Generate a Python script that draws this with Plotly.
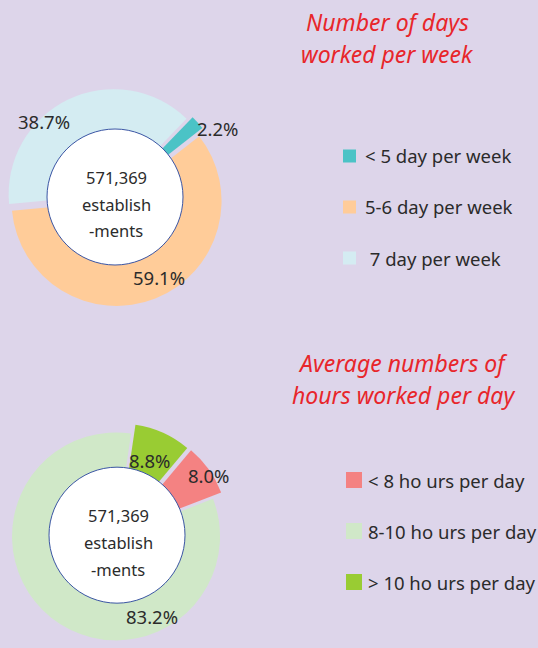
import plotly.graph_objects as go

# ---- data ---------------------------------------------------------------
total_lines = ["571,369", "establish", "-ments"]

days_labels = ["< 5 day per week", "5-6 day per week", " 7 day per week"]
days_values = [2.2, 59.1, 38.7]
days_colors = ["#4BC3C6", "#FFCC99", "#D4ECF2"]

hours_labels = ["< 8 ho urs per day", "8-10 ho urs per day", "> 10 ho urs per day"]
hours_values = [8.0, 83.2, 8.8]
hours_colors = ["#F48282", "#D0E8C8", "#99CC33"]

days_title = ["Number of days", "worked per week"]
hours_title = ["Average numbers of", "hours worked per day"]

# ---- layout constants ---------------------------------------------------
W, H = 538, 648
BG = "#DDD5EA"
FONT = "Noto Sans"
TXT = "#2B2B2B"
RED = "#E8262B"
HOLE_R = 68


def pie_box(cx, cy, r, max_pull):
    half = r * (1 + max_pull)
    return (
        [(cx - half) / W, (cx + half) / W],
        [max(0.0, 1 - (cy + half) / H), min(1.0, 1 - (cy - half) / H)],
    )


# top pie
t_cx, t_cy, t_r = 115, 197, 105
t_pull = [0.06, 0.04, 0.03]
# bottom pie (kept inside the page: box bottom sits on the lower edge)
b_cx, b_r = 117, 104
b_pull = [0.085, 0.015, 0.08]
b_cy = H - b_r * (1 + max(b_pull))
b_dy = b_cy - 542  # shift of the lower group relative to the picture

fig = go.Figure()

tx, ty = pie_box(t_cx, t_cy, t_r, max(t_pull))
fig.add_trace(go.Pie(
    labels=days_labels, values=days_values, sort=False,
    direction="clockwise", rotation=44, pull=t_pull,
    marker=dict(colors=days_colors, line=dict(width=0)),
    textinfo="none", hoverinfo="label+percent", showlegend=False,
    domain=dict(x=tx, y=ty),
))

bx, by = pie_box(b_cx, b_cy, b_r, max(b_pull))
fig.add_trace(go.Pie(
    labels=hours_labels, values=hours_values, sort=False,
    direction="clockwise", rotation=40, pull=b_pull,
    marker=dict(colors=hours_colors, line=dict(width=0)),
    textinfo="none", hoverinfo="label+percent", showlegend=False,
    domain=dict(x=bx, y=by),
))

shapes = []
annotations = []


def px(x, y):
    return x / W, 1 - y / H


def note(x, y, text, size, color=TXT, xanchor="center"):
    xx, yy = px(x, y)
    annotations.append(dict(x=xx, y=yy, xref="paper", yref="paper", text=text,
                            showarrow=False, xanchor=xanchor, yanchor="middle",
                            font=dict(family=FONT, size=size, color=color)))


# white centre discs + the establishment count
for cx, cy in [(t_cx, t_cy), (b_cx, b_cy)]:
    x0, y1 = px(cx - HOLE_R, cy - HOLE_R)
    x1, y0 = px(cx + HOLE_R, cy + HOLE_R)
    shapes.append(dict(type="circle", xref="paper", yref="paper",
                       x0=x0, x1=x1, y0=y0, y1=y1, fillcolor="white",
                       line=dict(color="#3A55A4", width=1), layer="above"))
    for line, off in zip(total_lines, [-20, 7, 34]):
        note(cx + 1, cy + off, line, 16.5)

# percentage labels (hand-placed as in the original)
t_label_pos = [(218, 128), (159, 277), (44, 122)]
b_label_pos = [(209, 482), (152, 623), (150, 467)]
for vals, pos, dy in [(days_values, t_label_pos, 0), (hours_values, b_label_pos, b_dy)]:
    for v, (x, y) in zip(vals, pos):
        note(x, y + dy, f"{v:.1f}%", 18.5)

# titles
for lines, x, y in [(days_title, 387, 22), (hours_title, 403, 363)]:
    for i, line in enumerate(lines):
        note(x, y + 32 * i, f"<i>{line}</i>", 23, RED)

# legends
for labels, colors, sx, size, tx0, ys, fs in [
    (days_labels, days_colors, 343, 13, 363, [156, 207, 258], 18.5),
    (hours_labels, hours_colors, 346, 16, 366, [480, 531, 582], 18.5),
]:
    for lab, col, y in zip(labels, colors, ys):
        x0, y1 = px(sx, y - size / 2)
        x1, y0 = px(sx + size, y + size / 2)
        shapes.append(dict(type="rect", xref="paper", yref="paper",
                           x0=x0, x1=x1, y0=y0, y1=y1, fillcolor=col,
                           line=dict(width=0)))
        note(tx0, y, lab, fs, xanchor="left")

fig.update_layout(
    width=W, height=H, margin=dict(l=0, r=0, t=0, b=0),
    paper_bgcolor=BG, plot_bgcolor=BG,
    shapes=shapes, annotations=annotations,
)

fig.write_html("out.html", config={"displayModeBar": False},
               post_script="document.body.style.margin = '0';")
